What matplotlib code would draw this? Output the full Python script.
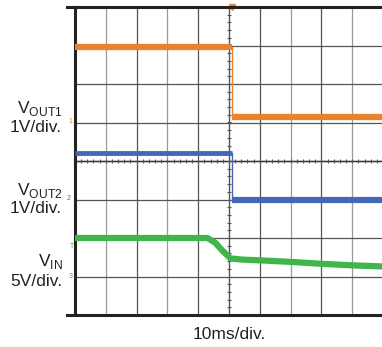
import matplotlib.pyplot as plt
import numpy as np

plt.rcParams['font.family'] = ['Liberation Sans', 'DejaVu Sans']
plt.rcParams['mathtext.fontset'] = 'custom'
plt.rcParams['mathtext.rm'] = 'Liberation Sans'

# time in divisions (10 div), levels in divisions (8 div)
t_step = 5.09
vout1_levels = [6.95, 5.13]
vout2_levels = [4.20, 2.99]
vin_t = [0.0, 4.30, 4.55, 4.80, 5.05, 5.40, 6.00, 7.00, 8.00, 9.00, 10.0]
vin_v = [2.00, 2.00, 1.88, 1.66, 1.47, 1.44, 1.42, 1.38, 1.33, 1.29, 1.26]

orange = '#E9822B'
blue = '#4468B8'
green = '#3FB54B'

fig = plt.figure(figsize=(3.82, 3.47), dpi=100)
ax = fig.add_axes([75/382, 32/347, 308/382, 308/347])
ax.set_xlim(0, 10)
ax.set_ylim(0, 8)

# graticule
for x in range(1, 10):
    ax.axvline(x, color='#999999' if x % 2 else '#555555', lw=0.9, zorder=1)
for y in range(1, 8):
    ax.axhline(y, color='#555555', lw=0.9, zorder=1)
ax.axvline(5, color='#555555', lw=0.9, zorder=1)
ax.axhline(4, color='#333333', lw=1.0, zorder=1)
minor_y = np.arange(0.2, 8, 0.2)
ax.plot([5]*len(minor_y), minor_y, ls='none', marker='_', ms=3, mew=0.8, color='#555555', zorder=1)
minor_x = np.arange(0.2, 10, 0.2)
ax.plot(minor_x, [4]*len(minor_x), ls='none', marker='|', ms=3, mew=0.8, color='#555555', zorder=1)

# VOUT1
ax.plot([0, t_step], [vout1_levels[0]]*2, color=orange, lw=4.5, solid_capstyle='butt', zorder=3)
ax.plot([t_step, 10], [vout1_levels[1]]*2, color=orange, lw=4.5, solid_capstyle='butt', zorder=3)
ax.plot([t_step, t_step], vout1_levels, color=orange, lw=1.0, zorder=3)
ax.plot([t_step], [8], marker='v', ms=4, color=orange, clip_on=False, zorder=4)

# VOUT2
ax.plot([0, t_step], [vout2_levels[0]]*2, color=blue, lw=3.5, solid_capstyle='butt', zorder=3)
ax.plot([t_step, 10], [vout2_levels[1]]*2, color=blue, lw=4.5, solid_capstyle='butt', zorder=3)
ax.plot([t_step, t_step], vout2_levels, color=blue, lw=1.0, zorder=3)

# VIN
ax.plot(vin_t, vin_v, color=green, lw=4.5, zorder=3)

ax.set_xticks([])
ax.set_yticks([])
for side in ['top', 'right', 'bottom']:
    ax.spines[side].set_visible(False)
ax.spines['left'].set_linewidth(2.2)
ax.spines['left'].set_color('#222222')

# top and bottom frame lines run past the left edge
fig.add_artist(plt.Line2D([67/382, 1], [1 - 7/347]*2, color='#222222', lw=2.2))
fig.add_artist(plt.Line2D([67/382, 1], [32/347]*2, color='#222222', lw=2.2))

# channel labels
lab = dict(fontsize=12.5, ha='right', color='#222222')
fig.text(63/382, 1 - 113/347, r'V$_{\mathrm{OUT1}}$', **lab)
fig.text(62/382, 1 - 132/347, '1V/div.', **lab)
fig.text(63/382, 1 - 195/347, r'V$_{\mathrm{OUT2}}$', **lab)
fig.text(62/382, 1 - 213/347, '1V/div.', **lab)
fig.text(63/382, 1 - 266/347, r'V$_{\mathrm{IN}}$', **lab)
fig.text(62/382, 1 - 286/347, '5V/div.', **lab)

# channel ground markers
fig.text(70/382, 1 - 122/347, '1', color=orange, fontsize=5, ha='center', va='center')
fig.text(69/382, 1 - 199/347, '2', color=blue, fontsize=5, ha='center', va='center')
fig.text(72/382, 1 - 247/347, 'T', color=green, fontsize=5, ha='center', va='center')
fig.text(71/382, 1 - 276/347, '3', color=green, fontsize=5, ha='center', va='center')

fig.text(229/382, 1 - 339/347, '10ms/div.', fontsize=12.5, ha='center', color='#222222')

fig.savefig('out.png', dpi=100)
